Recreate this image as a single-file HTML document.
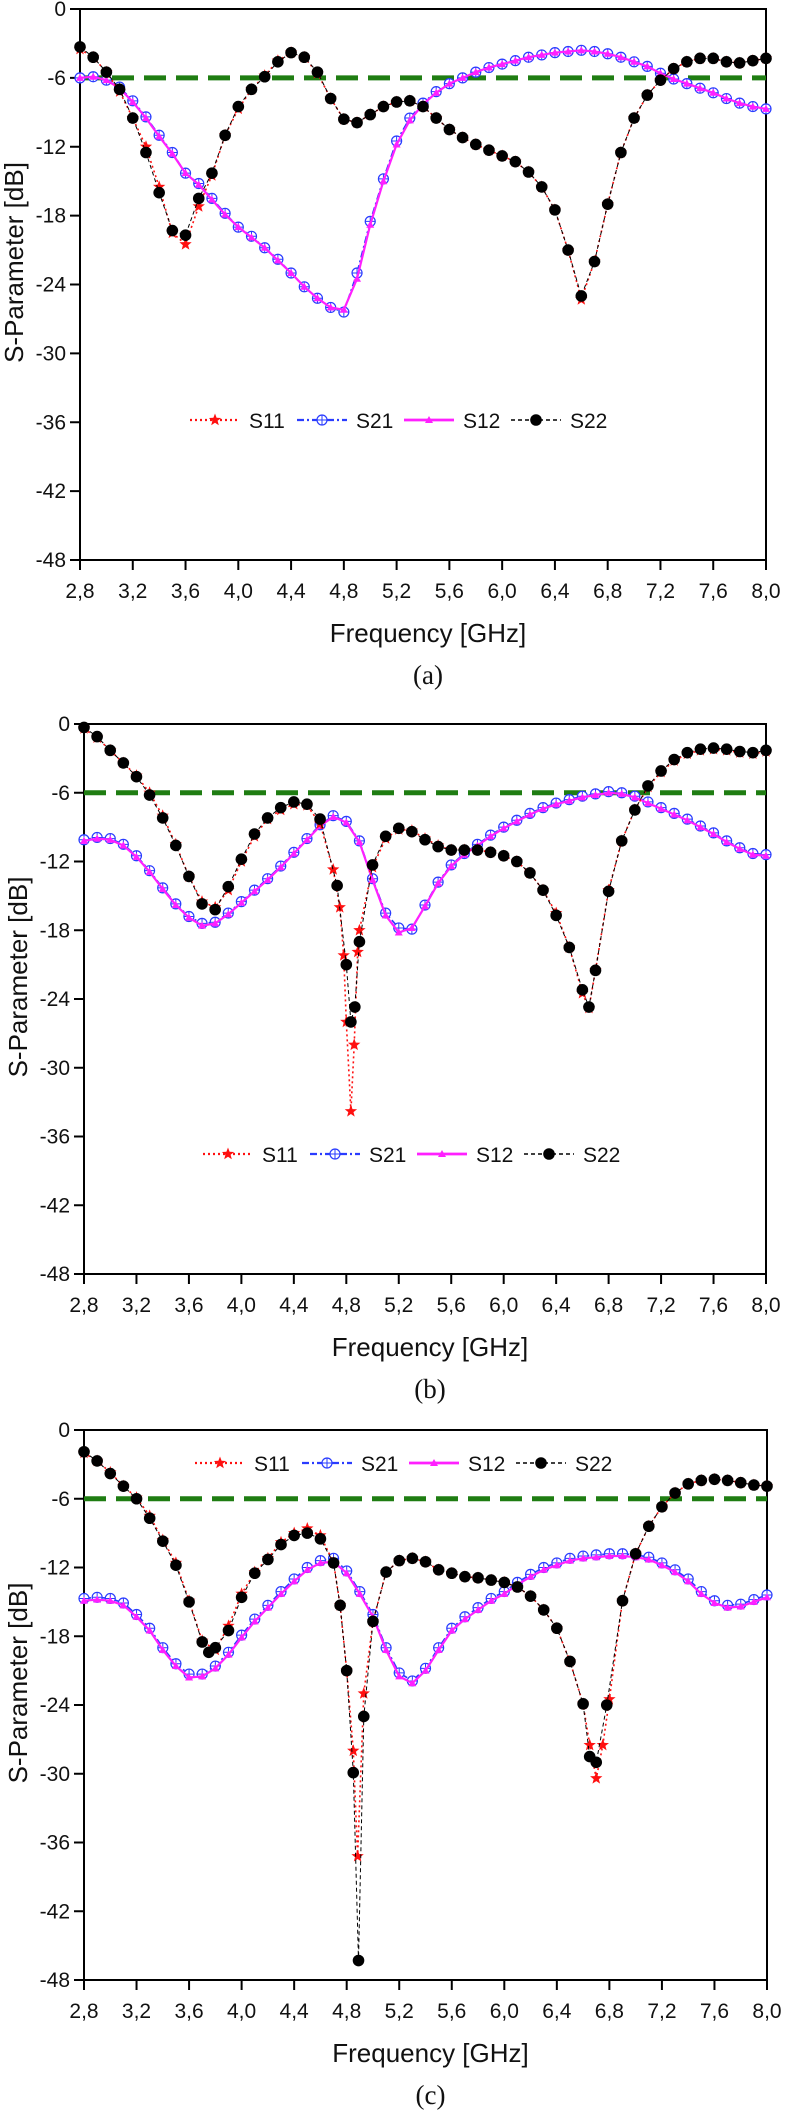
<!DOCTYPE html>
<html><head><meta charset="utf-8">
<style>
html,body{margin:0;padding:0;background:#fff;}
svg{display:block;}
text{font-family:"Liberation Sans",Arial,sans-serif;fill:#111;}
.cap{font-family:"Liberation Serif","Times New Roman",serif;}
</style></head>
<body>
<svg id="fig" width="785" height="2114" viewBox="0 0 785 2114" xmlns="http://www.w3.org/2000/svg"></svg>
<script>
// ---------- data ----------
const gridF = [2.8,2.9,3.0,3.1,3.2,3.3,3.4,3.5,3.6,3.7,3.8,3.9,4.0,4.1,4.2,4.3,4.4,4.5,4.6,4.7,4.8,4.9,5.0,5.1,5.2,5.3,5.4,5.5,5.6,5.7,5.8,5.9,6.0,6.1,6.2,6.3,6.4,6.5,6.6,6.7,6.8,6.9,7.0,7.1,7.2,7.3,7.4,7.5,7.6,7.7,7.8,7.9,8.0];
const xTicks = [2.8,3.2,3.6,4.0,4.4,4.8,5.2,5.6,6.0,6.4,6.8,7.2,7.6,8.0];
const xTickLabels = ["2,8","3,2","3,6","4,0","4,4","4,8","5,2","5,6","6,0","6,4","6,8","7,2","7,6","8,0"];
const yTicks = [0,-6,-12,-18,-24,-30,-36,-42,-48];
const yTickLabels = ["0","-6","-12","-18","-24","-30","-36","-42","-48"];
const refLevel = -6;

// chart (a)
const aS11 = [-3.5,-4.2,-5.5,-7.2,-9.5,-12,-15.5,-19.5,-20.5,-17.2,-14.5,-11,-8.7,-7,-5.8,-4.5,-3.8,-4.2,-5.6,-7.8,-9.6,-9.9,-9.2,-8.5,-8.1,-8.0,-8.5,-9.5,-10.5,-11.2,-11.8,-12.3,-12.8,-13.3,-14.2,-15.5,-17.5,-21,-25.3,-22,-17,-12.5,-9.5,-7.5,-6.2,-5.2,-4.6,-4.3,-4.3,-4.6,-4.7,-4.5,-4.3];
const aS22 = [-3.3,-4.2,-5.5,-7.0,-9.5,-12.5,-16,-19.3,-19.7,-16.5,-14.3,-11,-8.5,-7,-5.9,-4.6,-3.8,-4.2,-5.5,-7.8,-9.6,-9.9,-9.2,-8.5,-8.1,-8.0,-8.5,-9.5,-10.5,-11.2,-11.8,-12.3,-12.8,-13.3,-14.2,-15.5,-17.5,-21,-25.0,-22,-17,-12.5,-9.5,-7.5,-6.2,-5.2,-4.6,-4.3,-4.3,-4.6,-4.7,-4.5,-4.3];
const aS21 = [-6,-5.9,-6.2,-6.8,-8,-9.4,-11,-12.5,-14.3,-15.2,-16.5,-17.8,-19,-19.8,-20.8,-21.8,-23,-24.2,-25.2,-26,-26.4,-23,-18.5,-14.8,-11.5,-9.5,-8.2,-7.2,-6.5,-6,-5.5,-5.1,-4.8,-4.5,-4.2,-4.0,-3.8,-3.7,-3.6,-3.7,-3.9,-4.2,-4.6,-5.0,-5.6,-6.1,-6.5,-6.9,-7.3,-7.8,-8.2,-8.5,-8.7];
const aS12 = [-6,-5.9,-6.2,-6.9,-8.1,-9.5,-11.1,-12.6,-14.3,-15.3,-16.6,-17.9,-19,-19.9,-20.8,-21.9,-23,-24.2,-25.2,-26,-26.2,-23.5,-18.8,-15,-11.8,-9.7,-8.3,-7.3,-6.5,-6,-5.5,-5.1,-4.8,-4.5,-4.2,-4.0,-3.8,-3.7,-3.6,-3.7,-3.9,-4.2,-4.6,-5.0,-5.6,-6.1,-6.5,-6.9,-7.3,-7.8,-8.2,-8.5,-8.7];

// chart (b)
const bS11F = [2.8,2.9,3.0,3.1,3.2,3.3,3.4,3.5,3.6,3.7,3.8,3.9,4.0,4.1,4.2,4.3,4.4,4.5,4.6,4.7,4.75,4.78,4.8,4.835,4.86,4.887,4.9,5.0,5.1,5.2,5.3,5.4,5.5,5.6,5.7,5.8,5.9,6.0,6.1,6.2,6.3,6.4,6.5,6.6,6.65,6.7,6.8,6.9,7.0,7.1,7.2,7.3,7.4,7.5,7.6,7.7,7.8,7.9,8.0];
const bS11 = [-0.4,-1.2,-2.3,-3.4,-4.5,-6,-8,-10.5,-13.3,-15.5,-16,-14.5,-12,-9.8,-8.3,-7.5,-7,-7.1,-8.7,-12.7,-16,-20.2,-26,-33.8,-28,-19.9,-18,-12.5,-10,-9.2,-9.3,-10,-10.6,-11,-11,-11,-11.2,-11.5,-12,-13,-14.5,-16.5,-19.5,-23.5,-24.8,-21.5,-14.5,-10.2,-7.5,-5.5,-4.2,-3.2,-2.6,-2.3,-2.2,-2.3,-2.5,-2.6,-2.4];
const bS22F = [2.8,2.9,3.0,3.1,3.2,3.3,3.4,3.5,3.6,3.7,3.8,3.9,4.0,4.1,4.2,4.3,4.4,4.5,4.6,4.73,4.8,4.835,4.865,4.9,5.0,5.1,5.2,5.3,5.4,5.5,5.6,5.7,5.8,5.9,6.0,6.1,6.2,6.3,6.4,6.5,6.6,6.65,6.7,6.8,6.9,7.0,7.1,7.2,7.3,7.4,7.5,7.6,7.7,7.8,7.9,8.0];
const bS22 = [-0.3,-1.1,-2.3,-3.4,-4.6,-6.2,-8.2,-10.6,-13.3,-15.7,-16.2,-14.2,-11.8,-9.6,-8.2,-7.3,-6.8,-7.0,-8.3,-14.1,-21,-26,-24.7,-19,-12.3,-9.8,-9.1,-9.4,-10.1,-10.7,-11,-11,-11,-11.2,-11.5,-12,-13,-14.5,-16.7,-19.5,-23.2,-24.7,-21.5,-14.6,-10.2,-7.5,-5.4,-4.1,-3.1,-2.5,-2.2,-2.1,-2.2,-2.4,-2.5,-2.3];
const bS21 = [-10.1,-9.9,-10,-10.5,-11.5,-12.8,-14.3,-15.7,-16.8,-17.4,-17.3,-16.5,-15.5,-14.5,-13.5,-12.4,-11.2,-10,-8.8,-8.0,-8.5,-10.2,-13.5,-16.5,-17.8,-17.9,-15.8,-13.8,-12.3,-11.3,-10.5,-9.7,-9,-8.4,-7.8,-7.3,-6.9,-6.6,-6.3,-6.1,-5.9,-6.0,-6.3,-6.8,-7.3,-7.8,-8.3,-8.9,-9.5,-10.2,-10.8,-11.3,-11.4];
const bS12 = [-10.2,-10.0,-10.1,-10.6,-11.6,-12.9,-14.4,-15.8,-16.9,-17.6,-17.4,-16.6,-15.6,-14.6,-13.6,-12.5,-11.3,-10.1,-8.9,-8.1,-8.6,-10.3,-13.6,-16.7,-18.2,-17.8,-15.9,-13.9,-12.4,-11.4,-10.6,-9.8,-9.1,-8.5,-7.9,-7.4,-7.0,-6.7,-6.4,-6.2,-6.0,-6.1,-6.4,-6.9,-7.4,-7.9,-8.4,-9.0,-9.6,-10.3,-10.9,-11.4,-11.5];

// chart (c)
const cS11F = [2.8,2.9,3.0,3.1,3.2,3.3,3.4,3.5,3.6,3.7,3.8,3.9,4.0,4.1,4.2,4.3,4.4,4.5,4.6,4.7,4.75,4.8,4.85,4.883,4.93,5.0,5.1,5.2,5.3,5.4,5.5,5.6,5.7,5.8,5.9,6.0,6.1,6.2,6.3,6.4,6.5,6.6,6.65,6.7,6.75,6.8,6.9,7.0,7.1,7.2,7.3,7.4,7.5,7.6,7.7,7.8,7.9,8.0];
const cS11 = [-2.0,-2.7,-3.7,-4.9,-5.9,-7.5,-9.6,-11.6,-14.9,-18.4,-19.2,-17.1,-14.3,-12.4,-11.2,-9.8,-9.0,-8.6,-9.2,-11.6,-15.3,-21,-28,-37.2,-23,-16.7,-12.4,-11.4,-11.2,-11.5,-12.2,-12.5,-12.8,-12.9,-13.1,-13.3,-13.7,-14.5,-15.7,-17.3,-20.2,-23.9,-27.5,-30.4,-27.5,-23.5,-14.9,-10.8,-8.4,-6.7,-5.5,-4.7,-4.4,-4.3,-4.4,-4.6,-4.8,-4.9];
const cS22F = [2.8,2.9,3.0,3.1,3.2,3.3,3.4,3.5,3.6,3.7,3.75,3.8,3.9,4.0,4.1,4.2,4.3,4.4,4.5,4.6,4.7,4.75,4.8,4.85,4.89,4.93,5.0,5.1,5.2,5.3,5.4,5.5,5.6,5.7,5.8,5.9,6.0,6.1,6.2,6.3,6.4,6.5,6.6,6.65,6.7,6.78,6.9,7.0,7.1,7.2,7.3,7.4,7.5,7.6,7.7,7.8,7.9,8.0];
const cS22 = [-1.9,-2.7,-3.8,-4.9,-6.0,-7.7,-9.7,-11.8,-15.0,-18.5,-19.4,-19.0,-17.5,-14.6,-12.5,-11.3,-10.0,-9.2,-9.0,-9.5,-11.6,-15.3,-21,-29.9,-46.3,-25,-16.7,-12.4,-11.4,-11.2,-11.5,-12.2,-12.5,-12.8,-12.9,-13.1,-13.3,-13.7,-14.5,-15.7,-17.3,-20.2,-23.9,-28.5,-29,-24,-14.9,-10.8,-8.4,-6.7,-5.5,-4.7,-4.4,-4.3,-4.4,-4.6,-4.8,-4.9];
const cS21 = [-14.7,-14.6,-14.7,-15.1,-16.1,-17.3,-19,-20.4,-21.3,-21.3,-20.6,-19.4,-17.9,-16.5,-15.3,-14.1,-13,-12,-11.4,-11.2,-12.3,-14.1,-16.1,-19,-21.2,-21.9,-20.8,-19,-17.3,-16.3,-15.5,-14.7,-14.1,-13.3,-12.6,-12,-11.6,-11.2,-11,-10.9,-10.8,-10.8,-10.9,-11.1,-11.6,-12.2,-13,-14.1,-14.9,-15.3,-15.2,-14.8,-14.4];
const cS12 = [-14.9,-14.8,-14.9,-15.3,-16.3,-17.5,-19.2,-20.6,-21.6,-21.5,-20.8,-19.6,-18.1,-16.7,-15.5,-14.3,-13.2,-12.2,-11.6,-11.5,-12.5,-14.3,-16.3,-19.2,-21.5,-22.1,-21.0,-19.2,-17.5,-16.5,-15.7,-14.9,-14.3,-13.5,-12.8,-12.2,-11.8,-11.4,-11.2,-11.1,-11.0,-11.0,-11.1,-11.3,-11.8,-12.4,-13.2,-14.3,-15.1,-15.5,-15.4,-15.0,-14.6];

// ---------- drawing ----------
const NS = "http://www.w3.org/2000/svg";
const fig = document.getElementById('fig');
function mk(tag, attrs, parent) {
  const e = document.createElementNS(NS, tag);
  for (const k in attrs) e.setAttribute(k, attrs[k]);
  (parent || fig).appendChild(e);
  return e;
}
function starPts(cx, cy, r) {
  const p = [];
  for (let i = 0; i < 10; i++) {
    const a = -Math.PI / 2 + i * Math.PI / 5;
    const rr = i % 2 === 0 ? r : r * 0.42;
    p.push((cx + rr * Math.cos(a)).toFixed(1) + "," + (cy + rr * Math.sin(a)).toFixed(1));
  }
  return p.join(" ");
}
function marker(kind, cx, cy, g) {
  let m;
  if (kind === 'star') {
    m = mk('polygon', {points: starPts(cx, cy, 6.5), fill: '#ff1010', stroke: 'none'}, g);
  } else if (kind === 'ocross') {
    m = mk('g', {}, g);
    mk('circle', {cx: cx, cy: cy, r: 5, fill: '#fff', stroke: '#2a3cff', 'stroke-width': 1.2}, m);
    mk('path', {d: `M${cx-5},${cy}H${cx+5}M${cx},${cy-5}V${cy+5}`, stroke: '#2a3cff', 'stroke-width': 1}, m);
  } else if (kind === 'tri') {
    m = mk('polygon', {points: `${cx},${cy-4} ${cx-4},${cy+3} ${cx+4},${cy+3}`, fill: '#ff20ff'}, g);
  } else {
    m = mk('circle', {cx: cx, cy: cy, r: 5.8, fill: '#000'}, g);
  }
  return m;
}
const styles = {
  S11: {color: '#ff1010', dash: '2,3', width: 1.6, marker: 'star'},
  S21: {color: '#2a3cff', dash: '7,3,2,3', width: 1.6, marker: 'ocross'},
  S12: {color: '#ff20ff', dash: '', width: 2.2, marker: 'tri'},
  S22: {color: '#000', dash: '4,3', width: 1, marker: 'dot'}
};

function drawChart(c) {
  const g = mk('g', {});
  
  
  const X = f => c.L + (f - 2.8) / 5.2 * (c.R - c.L);
  const Y = v => c.T + (-v) / 48 * (c.B - c.T);

  // frame
  const frame = mk('rect', {x: c.L, y: c.T, width: c.R - c.L, height: c.B - c.T, fill: 'none', stroke: '#000', 'stroke-width': 2}, g);
  
  

  // ticks
  xTicks.forEach((t, i) => {
    const tk = mk('line', {x1: X(t), x2: X(t), y1: c.B, y2: c.B + 10, stroke: '#000', 'stroke-width': 2}, g);
    
    
    const lb = mk('text', {x: X(t), y: c.B + 38, 'text-anchor': 'middle', 'font-size': 21}, g);
    lb.textContent = xTickLabels[i];
    
    
  });
  yTicks.forEach((t, i) => {
    const tk = mk('line', {x1: c.L - 10, x2: c.L, y1: Y(t), y2: Y(t), stroke: '#000', 'stroke-width': 2}, g);
    
    
    const lb = mk('text', {x: c.L - 14, y: Y(t) + 7, 'text-anchor': 'end', 'font-size': 21}, g);
    lb.textContent = yTickLabels[i];
    
    
  });

  // axis titles
  const xt = mk('text', {x: (c.L + c.R) / 2 + 5, y: c.B + 82, 'text-anchor': 'middle', 'font-size': 26}, g);
  xt.textContent = 'Frequency [GHz]';
  
  
  const ymid = (c.T + c.B) / 2 - 22;
  const yt = mk('text', {x: 0, y: 0, 'text-anchor': 'middle', 'font-size': 26, transform: `translate(${c.L - 57},${ymid}) rotate(-90)`}, g);
  yt.textContent = 'S-Parameter [dB]';
  
  

  // caption
  const cap = mk('text', {x: (c.L + c.R) / 2 + 5, y: c.B + 124, 'text-anchor': 'middle', 'font-size': 27, class: 'cap'}, g);
  cap.textContent = '(' + c.id + ')';
  
  

  // reference line
  const ref = mk('line', {x1: c.L, x2: c.R, y1: Y(refLevel), y2: Y(refLevel), stroke: '#1f7d12', 'stroke-width': 5, 'stroke-dasharray': '22,10'}, g);
  
  

  // series
  c.series.forEach(s => {
    const st = styles[s.name];
    const sg = mk('g', {}, g);
    
    
    const pts = s.f.map((f, i) => X(f).toFixed(1) + ',' + Y(s.v[i]).toFixed(1)).join(' ');
    const pl = mk('polyline', {points: pts, fill: 'none', stroke: st.color, 'stroke-width': st.width, 'stroke-dasharray': st.dash, 'stroke-linejoin': 'round'}, sg);
    
    
    s.f.forEach((f, i) => {
      const m = marker(st.marker, X(f), Y(s.v[i]), sg);
      
      
    });
  });

  // legend
  const lg = mk('g', {}, g);
  
  
  ['S11', 'S21', 'S12', 'S22'].forEach((n, i) => {
    const st = styles[n];
    const x0 = c.legX + i * 107;
    const eg = mk('g', {}, lg);
    
    
    mk('line', {x1: x0, x2: x0 + 50, y1: c.legY, y2: c.legY, stroke: st.color, 'stroke-width': st.width + 0.6, 'stroke-dasharray': st.dash}, eg);
    marker(st.marker, x0 + 25, c.legY, eg);
    const t = mk('text', {x: x0 + 59, y: c.legY + 8, 'font-size': 21}, eg);
    t.textContent = n;
  });
}

drawChart({id: 'a', L: 80, R: 766, T: 9, B: 560, legX: 190, legY: 420,
  series: [{name: 'S21', f: gridF, v: aS21}, {name: 'S12', f: gridF, v: aS12}, {name: 'S11', f: gridF, v: aS11}, {name: 'S22', f: gridF, v: aS22}]});
drawChart({id: 'b', L: 84, R: 766, T: 724, B: 1274, legX: 203, legY: 1154,
  series: [{name: 'S21', f: gridF, v: bS21}, {name: 'S12', f: gridF, v: bS12}, {name: 'S11', f: bS11F, v: bS11}, {name: 'S22', f: bS22F, v: bS22}]});
drawChart({id: 'c', L: 84, R: 767, T: 1430, B: 1980, legX: 195, legY: 1463,
  series: [{name: 'S21', f: gridF, v: cS21}, {name: 'S12', f: gridF, v: cS12}, {name: 'S11', f: cS11F, v: cS11}, {name: 'S22', f: cS22F, v: cS22}]});
</script>
</body></html>
